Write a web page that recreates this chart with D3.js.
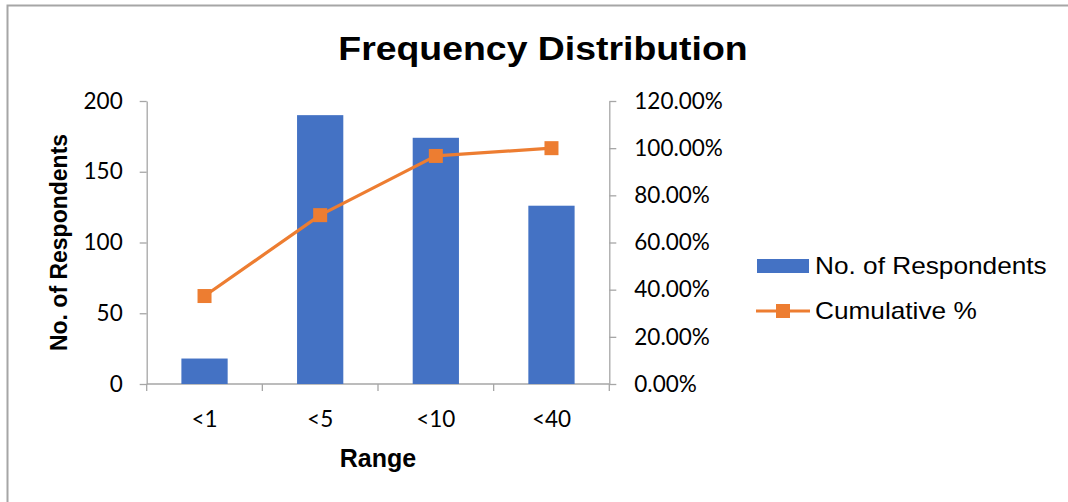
<!DOCTYPE html>
<html>
<head>
<meta charset="utf-8">
<script src="https://cdn.jsdelivr.net/npm/d3@7"></script>
<style>
  html, body { margin: 0; padding: 0; background: #fff; }
  svg { display: block; }
</style>
</head>
<body>
<svg id="chart" width="1068" height="502"></svg>
<script>
// Frequency distribution: respondent counts per range with cumulative share
const categories = ["<1", "<5", "<10", "<40"];
const respondents = [18, 190, 174, 126];
const cumulative = [0.373, 0.716, 0.967, 1.0];
const countTicks = [0, 50, 100, 150, 200];
const pctTicks = [0, 0.2, 0.4, 0.6, 0.8, 1.0, 1.2];

const svg = d3.select("#chart");
const W = 1068, H = 502;
const plot = { left: 146.7, right: 609.3, top: 101, bottom: 384 };

const BLUE = "#4472C4", ORANGE = "#ED7D31", AXIS = "#a6a6a6";
const tickFont = "Lato, 'Open Sans', sans-serif";
const headFont = "'Liberation Sans', Arial, sans-serif";
const TICK_SIZE = 22.5;

svg.append("rect").attr("width", W).attr("height", H).attr("fill", "#fff");
// outer frame
svg.append("rect")
  .attr("x", 7.5).attr("y", 5.5).attr("width", W + 20).attr("height", H + 20)
  .attr("fill", "none").attr("stroke", AXIS).attr("stroke-width", 2);

const x = d3.scaleBand().domain(categories)
  .range([plot.left, plot.right]).paddingInner(0.6).paddingOuter(0.3);
const yL = d3.scaleLinear().domain([0, 200]).range([plot.bottom, plot.top]);
const yR = d3.scaleLinear().domain([0, 1.2]).range([plot.bottom, plot.top]);

// Title
svg.append("text")
  .attr("x", 543).attr("y", 60)
  .attr("text-anchor", "middle")
  .attr("font-family", headFont).attr("font-weight", "bold")
  .attr("font-size", 34)
  .attr("transform", "translate(543,0) scale(1.1,1) translate(-543,0)")
  .attr("fill", "#000")
  .text("Frequency Distribution");

// Left axis
const axL = svg.append("g").attr("transform", `translate(${plot.left},0)`)
  .call(d3.axisLeft(yL).tickValues(countTicks).tickSize(7).tickSizeOuter(0).tickPadding(17));
// Right axis
const axR = svg.append("g").attr("transform", `translate(${plot.right},0)`)
  .call(d3.axisRight(yR).tickValues(pctTicks).tickSize(7).tickSizeOuter(0).tickPadding(18)
    .tickFormat(d => (d * 100).toFixed(2) + "%"));

[axL, axR].forEach(g => {
  g.select(".domain").attr("stroke", AXIS).attr("stroke-width", 1.3);
  g.selectAll(".tick line").attr("stroke", AXIS).attr("stroke-width", 1.3);
  g.selectAll(".tick text").attr("font-family", tickFont).attr("font-size", TICK_SIZE)
    .attr("fill", "#000");
});

// Category axis: baseline, boundary ticks, labels
const step = x.step();
const bounds = d3.range(categories.length + 1).map(i => x.range()[0] + i * step);
const axB = svg.append("g");
axB.append("line")
  .attr("x1", plot.left).attr("x2", plot.right)
  .attr("y1", plot.bottom).attr("y2", plot.bottom)
  .attr("stroke", AXIS).attr("stroke-width", 1.3);
axB.selectAll("line.tk").data(bounds).join("line").attr("class", "tk")
  .attr("x1", d => d).attr("x2", d => d)
  .attr("y1", plot.bottom).attr("y2", plot.bottom + 7)
  .attr("stroke", AXIS).attr("stroke-width", 1.3);
axB.selectAll("text").data(categories).join("text")
  .attr("x", d => x(d) + x.bandwidth() / 2)
  .attr("y", 426.5)
  .attr("text-anchor", "middle")
  .attr("font-family", tickFont).attr("font-size", TICK_SIZE).attr("fill", "#000")
  .text(d => d);

// Bars
svg.append("g").selectAll("rect").data(categories).join("rect")
  .attr("x", d => x(d))
  .attr("width", x.bandwidth())
  .attr("y", (d, i) => yL(respondents[i]))
  .attr("height", (d, i) => plot.bottom - yL(respondents[i]))
  .attr("fill", BLUE);

// Cumulative line with square markers
const pts = categories.map((c, i) => [x(c) + x.bandwidth() / 2, yR(cumulative[i])]);
svg.append("path")
  .attr("d", d3.line()(pts))
  .attr("fill", "none").attr("stroke", ORANGE).attr("stroke-width", 3.2)
  .attr("stroke-linejoin", "round");
const MK = 14;
svg.append("g").selectAll("rect").data(pts).join("rect")
  .attr("x", d => d[0] - MK / 2).attr("y", d => d[1] - MK / 2)
  .attr("width", MK).attr("height", MK).attr("fill", ORANGE);

// Axis titles
svg.append("text")
  .attr("transform", `translate(67,${(plot.top + plot.bottom) / 2}) rotate(-90)`)
  .attr("text-anchor", "middle")
  .attr("font-family", headFont).attr("font-weight", "bold").attr("font-size", 23)
  .attr("fill", "#000")
  .text("No. of Respondents");
svg.append("text")
  .attr("x", (plot.left + plot.right) / 2).attr("y", 467)
  .attr("text-anchor", "middle")
  .attr("font-family", headFont).attr("font-weight", "bold").attr("font-size", 25)
  .attr("fill", "#000")
  .text("Range");

// Legend
const lg = svg.append("g");
lg.append("rect").attr("x", 757).attr("y", 259).attr("width", 52).attr("height", 14)
  .attr("fill", BLUE);
lg.append("line").attr("x1", 756).attr("x2", 810).attr("y1", 311).attr("y2", 311)
  .attr("stroke", ORANGE).attr("stroke-width", 3.2);
lg.append("rect").attr("x", 783 - MK / 2).attr("y", 311 - MK / 2)
  .attr("width", MK).attr("height", MK).attr("fill", ORANGE);
const legendLabels = ["No. of Respondents", "Cumulative %"];
lg.selectAll("text").data(legendLabels).join("text")
  .attr("x", 815).attr("y", (d, i) => 274 + i * 45.5)
  .attr("font-family", headFont).attr("font-size", 23).attr("fill", "#000")
  .attr("transform", "translate(815,0) scale(1.14,1) translate(-815,0)")
  .text(d => d);
</script>
</body>
</html>
